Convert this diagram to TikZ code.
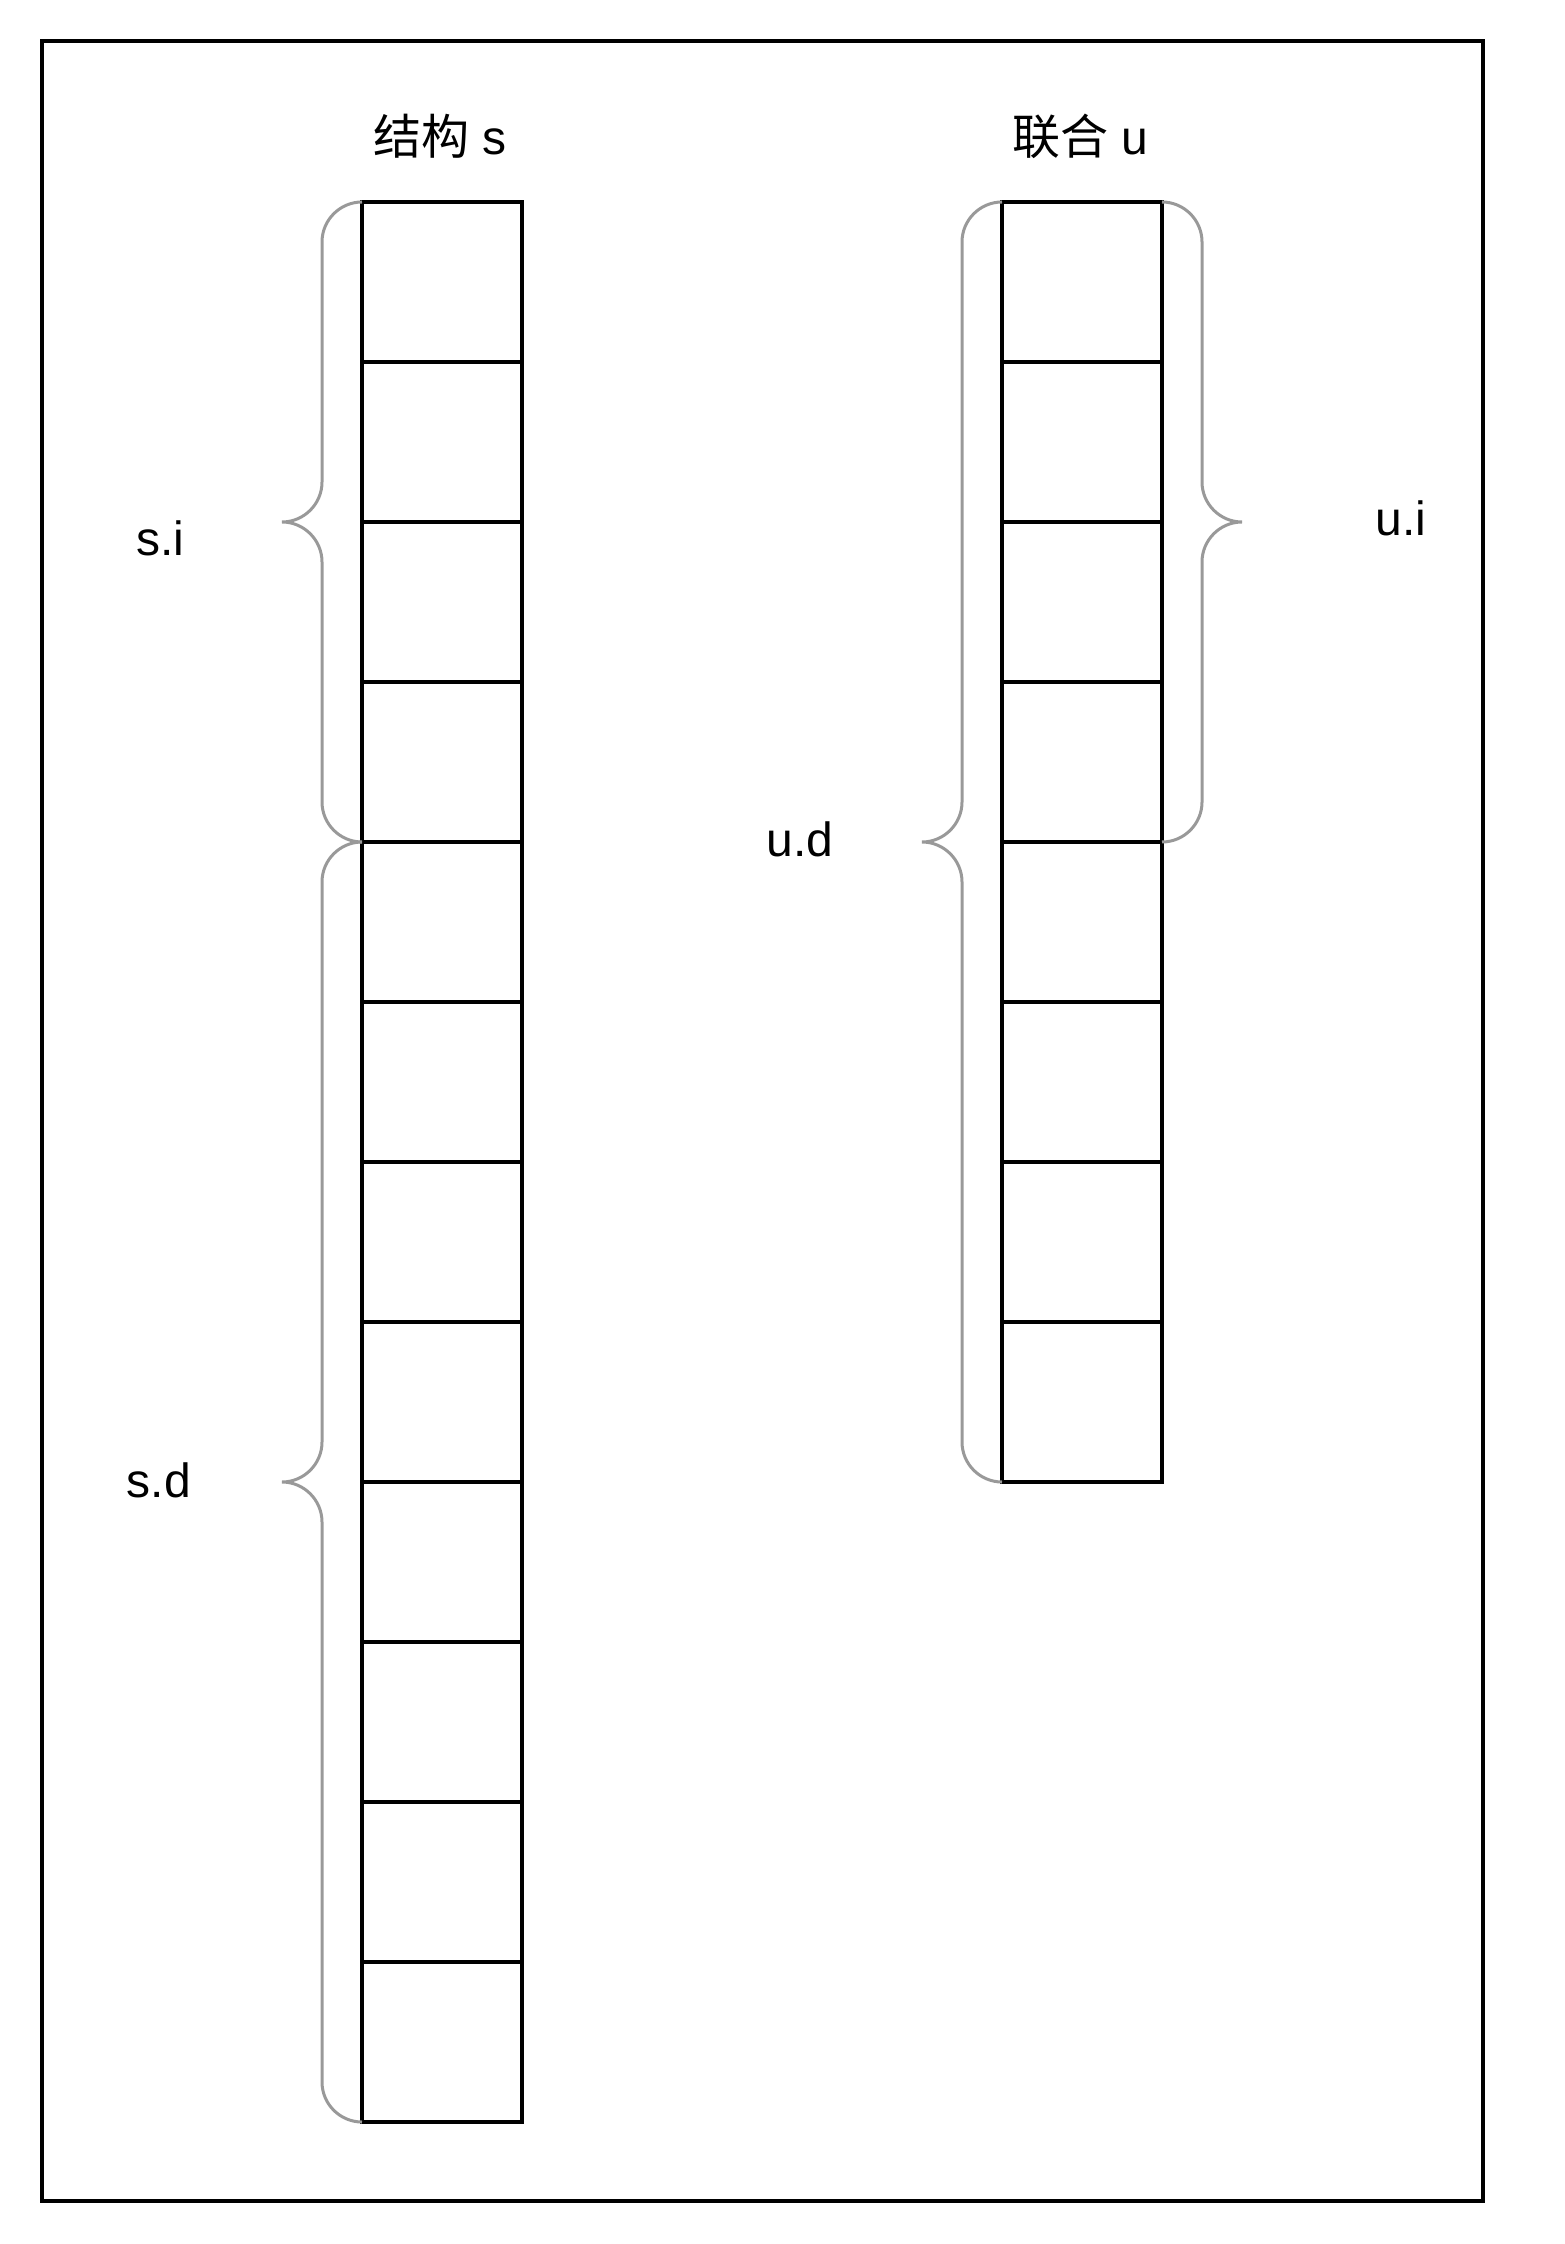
\documentclass[tikz,border=0pt]{standalone}
\usepackage{fontspec}
\setmainfont{Liberation Sans}
\newfontfamily\cjk{Noto Sans CJK SC}
\usetikzlibrary{positioning}
\definecolor{bracegray}{HTML}{999999}
\tikzset{%
    every cell/.style={
        rectangle,
        draw,
        line width=0.95pt,
        minimum size=40pt,
        inner sep=0pt
    },
    brace line/.style={
        draw=bracegray,
        line width=0.75pt
    },
    label text/.style={
        anchor=base,
        inner sep=0pt,
        font=\fontsize{12pt}{14pt}\selectfont
    },
}
% curly brace beside a column: edge x, top y, bottom y, side (-1 left, 1 right)
\newcommand{\curly}[4]{%
    \pgfmathsetmacro{\bmid}{(#2+#3)/2}
    \pgfmathsetmacro{\bxa}{#1+#4*22}
    \pgfmathsetmacro{\bxb}{#1+#4*40}
    \pgfmathsetmacro{\bxc}{#1+#4*58}
    \pgfmathsetmacro{\bxd}{#1+#4*80}
    \draw [brace line] (#1,#2) .. controls (\bxa,#2) and (\bxb,#2+18) .. (\bxb,#2+40)
        -- (\bxb,\bmid-40) .. controls (\bxb,\bmid-18) and (\bxc,\bmid) .. (\bxd,\bmid)
        .. controls (\bxc,\bmid) and (\bxb,\bmid+18) .. (\bxb,\bmid+40)
        -- (\bxb,#3-40) .. controls (\bxb,#3-18) and (\bxa,#3) .. (#1,#3);
}

\begin{document}
\begin{tikzpicture}[x=0.25pt, y=-0.25pt]

        \useasboundingbox (0,0) rectangle (1564,2244);
        \draw [line width=1pt] (41.5,41.5) rectangle (1482.5,2201);

        % struct s
        \foreach \i in {1,...,12}
            \node [every cell] (s-\i) at (442,122+160*\i) {};

        \node [label text] (s-title) at (440,155) {{\cjk 结构} s};

        \curly{362}{202}{842}{-1}
        \curly{362}{842}{2122}{-1}

        \node [label text] (s-i) at (160,556) {s.i};
        \node [label text] (s-d) at (159,1497) {s.d};

        % union u
        \foreach \i in {1,...,8}
            \node [every cell] (u-\i) at (1082,122+160*\i) {};

        \node [label text] (u-title) at (1080,155) {{\cjk 联合} u};

        \curly{1002}{202}{1482}{-1}
        \curly{1162}{202}{842}{1}

        \node [label text] (u-d) at (800,856) {u.d};
        \node [label text] (u-i) at (1401,536) {u.i};

    \end{tikzpicture}
\end{document}
